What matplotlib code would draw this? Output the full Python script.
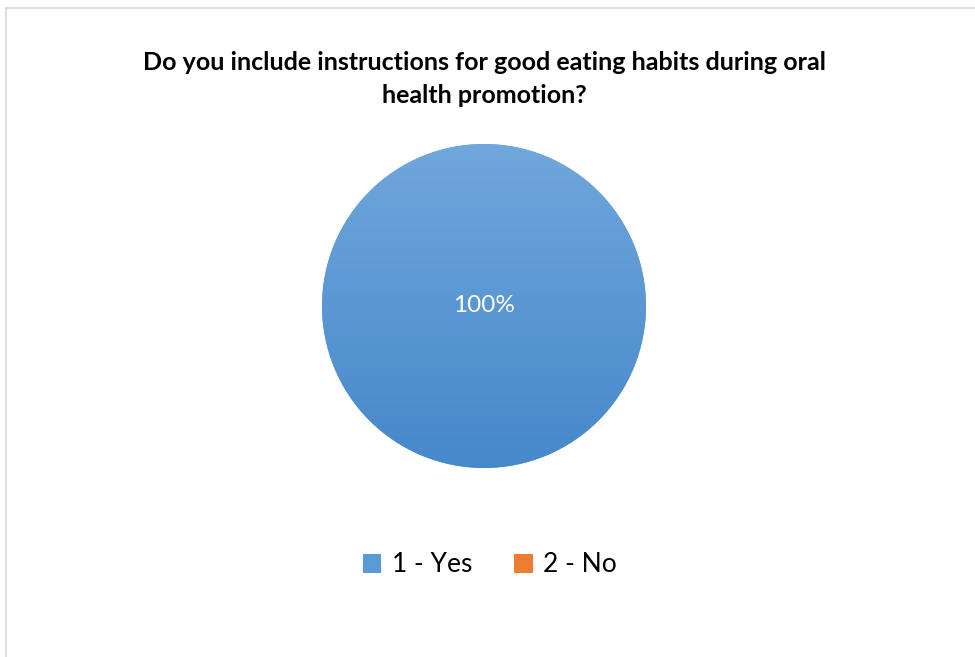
import matplotlib.pyplot as plt
import numpy as np
from matplotlib.patches import Rectangle, Patch
from matplotlib.colors import LinearSegmentedColormap

title = 'Do you include instructions for good eating habits during oral\nhealth promotion?'
labels = ['1 - Yes', '2 - No']
values = [100, 0]
colors = ['#5B9BD5', '#ED7D31']

plt.rcParams['font.family'] = ['Lato', 'DejaVu Sans']

fig = plt.figure(figsize=(9.75, 6.57), dpi=100)
W, H = 975, 657

# light border around chart area
fig.patches.append(Rectangle((6 / W, -0.01), 1.0, 1 - 7.5 / H + 0.01, transform=fig.transFigure,
                             fill=False, edgecolor='#D9D9D9', linewidth=1.2))

fig.text(0.497, 1 - 79 / H, title, ha='center', va='center', fontsize=18,
         fontweight='bold', linespacing=1.55, color='#000000')

# pie axes (centre ~ (484, 306) px, radius ~162 px)
cx, cy, r = 484, H - 306, 162
ax = fig.add_axes([(cx - r) / W, (cy - r) / H, 2 * r / W, 2 * r / H])

def pct(p):
    return '%d%%' % round(p) if p > 0 else ''

wedges, texts, autotexts = ax.pie(values, colors=colors, startangle=90, counterclock=False,
                                  autopct=pct, pctdistance=0.0, radius=1.0,
                                  textprops=dict(color='white', fontsize=17.5))

# vertical gradient on the big slice
cmap = LinearSegmentedColormap.from_list('g', ['#4688CA', '#70A7DC'])
grad = np.linspace(0, 1, 256).reshape(-1, 1)
im = ax.imshow(grad, cmap=cmap, extent=[-1, 1, -1, 1], origin='lower', aspect='auto', zorder=1.5)
im.set_clip_path(wedges[0])
ax.set_xlim(-1, 1)
ax.set_ylim(-1, 1)
ax.set_aspect('equal')
ax.axis('off')
for t in autotexts:
    t.set_zorder(3)

handles = [Patch(facecolor=c, edgecolor='none') for c in colors]
fig.legend(handles, labels, loc='center', bbox_to_anchor=(490 / W, 1 - 565 / H), ncol=2,
           frameon=False, fontsize=19, handlelength=0.7, handleheight=0.7,
           handletextpad=0.4, columnspacing=1.6)

fig.savefig('out.png', dpi=100, facecolor='white')
